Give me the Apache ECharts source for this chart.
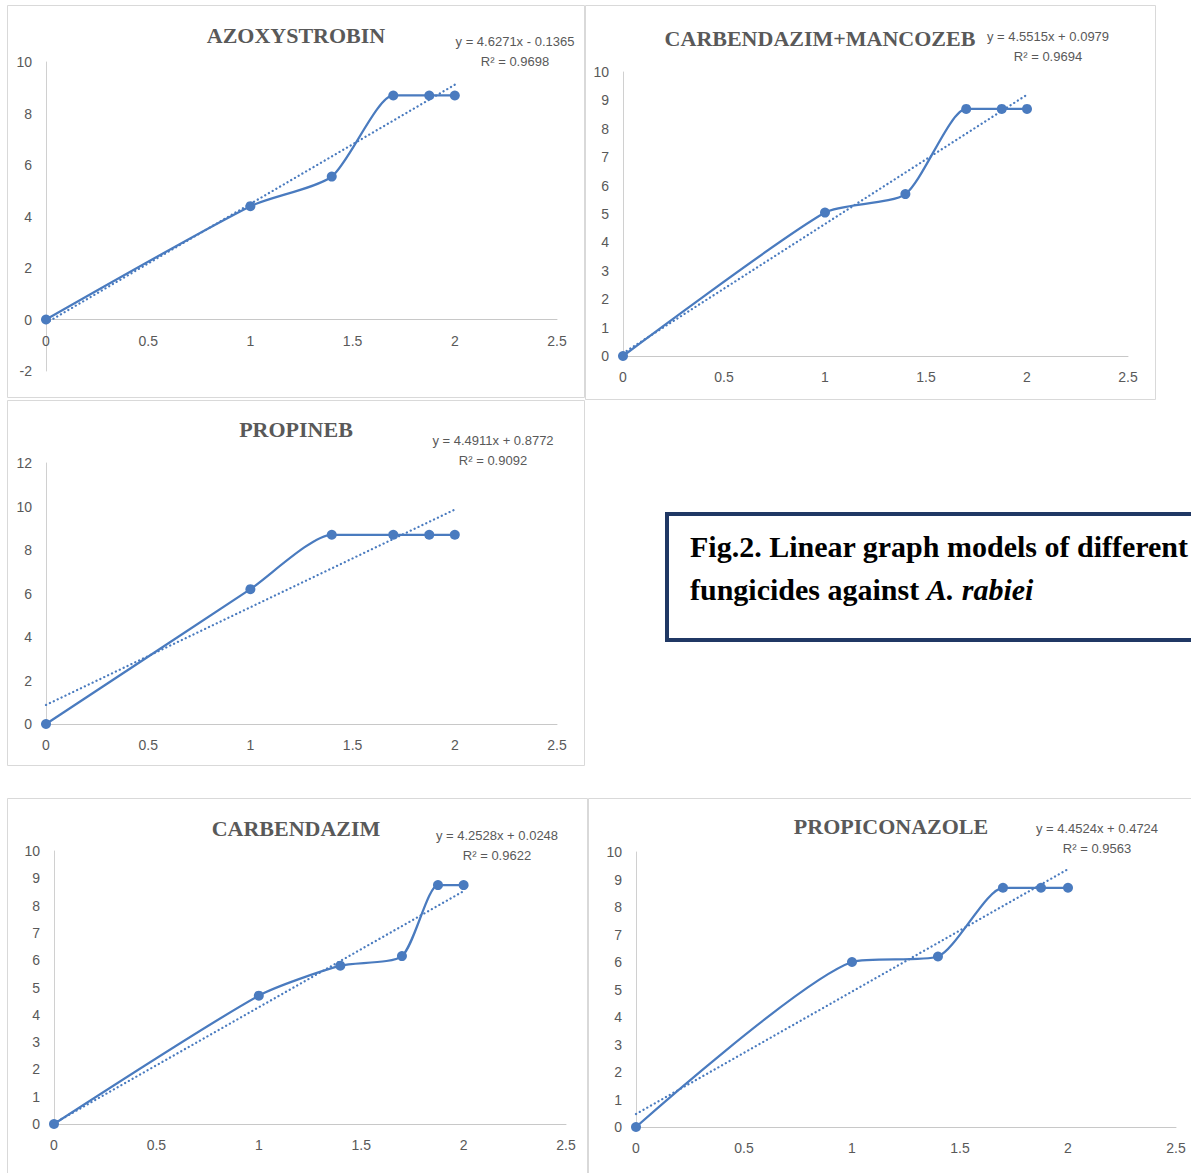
<!DOCTYPE html>
<html>
<head>
<meta charset="utf-8">
<script src="https://cdn.jsdelivr.net/npm/echarts@6/dist/echarts.min.js"></script>
<style>
  html, body { margin: 0; padding: 0; background: #fff; }
  #main { width: 1191px; height: 1173px; }
</style>
</head>
<body>
<div id="main"></div>
<script>
// log concentration on x, probit-like response on y
const xLog = [0, 1, 1.398, 1.699, 1.875, 2];
const azoxystrobinY = [0, 4.4, 5.55, 8.7, 8.7, 8.7];
const carbMancozebY = [0, 5.05, 5.7, 8.7, 8.7, 8.7];
const propinebY = [0, 6.2, 8.7, 8.7, 8.7, 8.7];
const carbendazimY = [0, 4.7, 5.8, 6.15, 8.75, 8.75];
const propiconazoleY = [0, 6.0, 6.2, 8.7, 8.7, 8.7];

const titles = ['AZOXYSTROBIN', 'CARBENDAZIM+MANCOZEB', 'PROPINEB', 'CARBENDAZIM', 'PROPICONAZOLE'];
const slopes = [4.6271, 4.5515, 4.4911, 4.2528, 4.4524];
const intercepts = [-0.1365, 0.0979, 0.8772, 0.0248, 0.4724];
const equations = ['y = 4.6271x - 0.1365', 'y = 4.5515x + 0.0979', 'y = 4.4911x + 0.8772', 'y = 4.2528x + 0.0248', 'y = 4.4524x + 0.4724'];
const rSquared = ['R² = 0.9698', 'R² = 0.9694', 'R² = 0.9092', 'R² = 0.9622', 'R² = 0.9563'];
const yMin = [-2, 0, 0, 0, 0];
const yMax = [10, 10, 12, 10, 10];
const yStep = [2, 1, 2, 1, 1];

const seriesY = [azoxystrobinY, carbMancozebY, propinebY, carbendazimY, propiconazoleY];

// layout of each panel: frame, plot area, title and equation spots
const panels = [
  { box: [7, 5, 577, 392],   grid: [46, 62, 511, 309],  title: [296, 35],  eq: [515, 51] },
  { box: [585, 5, 570, 394], grid: [623, 72, 505, 284], title: [820, 38],  eq: [1048, 46] },
  { box: [7, 400, 577, 365], grid: [46, 463, 511, 261], title: [296, 429], eq: [493, 450] },
  { box: [7, 798, 580, 380], grid: [54, 851, 512, 273], title: [296, 828], eq: [497, 845] },
  { box: [588, 798, 610, 380], grid: [636, 852, 540, 275], title: [891, 826], eq: [1097, 838] }
];

const blue = '#4a7bbf';
const grey = '#595959';
const tickFont = "'Liberation Sans Narrow', 'Liberation Sans', sans-serif";

const grids = [], xAxes = [], yAxes = [], series = [], graphics = [];

panels.forEach(function (p, i) {
  graphics.push({
    type: 'rect', silent: true,
    shape: { x: p.box[0] + 0.5, y: p.box[1] + 0.5, width: p.box[2], height: p.box[3] },
    style: { fill: 'none', stroke: '#d9d9d9', lineWidth: 1 }
  });
  graphics.push({
    type: 'text', x: p.title[0], y: p.title[1],
    style: { text: titles[i], fill: grey, font: "bold 22px 'Liberation Serif', serif", textAlign: 'center', textVerticalAlign: 'middle' }
  });
  graphics.push({
    type: 'text', x: p.eq[0], y: p.eq[1],
    style: { text: equations[i] + '\n' + rSquared[i], fill: grey, font: '13px ' + tickFont, textAlign: 'center', textVerticalAlign: 'middle', lineHeight: 20 }
  });

  // x labels sit just under the zero line, even when y goes below zero
  const zeroOffset = p.grid[3] * (0 - yMin[i]) / (yMax[i] - yMin[i]);

  grids.push({ left: p.grid[0], top: p.grid[1], width: p.grid[2], height: p.grid[3] });
  xAxes.push({
    type: 'value', gridIndex: i, min: 0, max: 2.5, interval: 0.5,
    axisLine: { onZero: true, lineStyle: { color: '#c8c8c8', width: 1 } },
    axisTick: { show: false }, splitLine: { show: false },
    axisLabel: { color: grey, fontSize: 14, fontFamily: tickFont, margin: 14 - zeroOffset }
  });
  yAxes.push({
    type: 'value', gridIndex: i, min: yMin[i], max: yMax[i], interval: yStep[i],
    axisLine: { show: true, lineStyle: { color: '#d0d0d0', width: 1 } },
    axisTick: { show: false }, splitLine: { show: false },
    axisLabel: { color: grey, fontSize: 14, fontFamily: tickFont, margin: 14 }
  });

  series.push({
    name: titles[i], type: 'line', xAxisIndex: i, yAxisIndex: i,
    data: xLog.map(function (x, k) { return [x, seriesY[i][k]]; }),
    smooth: 0.22, symbol: 'circle', symbolSize: 10,
    lineStyle: { color: blue, width: 2.25 }, itemStyle: { color: blue },
    z: 3
  });
  series.push({
    name: titles[i] + ' trend', type: 'line', xAxisIndex: i, yAxisIndex: i,
    data: [[0, intercepts[i]], [2, slopes[i] * 2 + intercepts[i]]],
    symbol: 'none', lineStyle: { color: blue, width: 2.25, type: [0.1, 4.2], cap: 'round' },
    z: 2
  });
});

// caption box (text runs past the right edge, as in the original page)
graphics.push({
  type: 'rect', silent: true,
  shape: { x: 667, y: 514, width: 540, height: 126 },
  style: { fill: '#fff', stroke: '#203864', lineWidth: 4 }
});
graphics.push({
  type: 'text', x: 690, y: 525,
  style: {
    text: '{b|Fig.2. Linear graph models of different}\n{b|fungicides against }{bi|A.}{b| }{bi|rabiei}',
    rich: {
      b: { font: "bold 30px 'Liberation Serif', serif", fill: '#000', lineHeight: 43 },
      bi: { font: "italic bold 30px 'Liberation Serif', serif", fill: '#000', lineHeight: 43 }
    }
  }
});

const chart = echarts.init(document.getElementById('main'), null, { renderer: 'svg' });
chart.setOption({
  animation: false,
  backgroundColor: '#fff',
  grid: grids,
  xAxis: xAxes,
  yAxis: yAxes,
  series: series,
  graphic: graphics
});
</script>
</body>
</html>
